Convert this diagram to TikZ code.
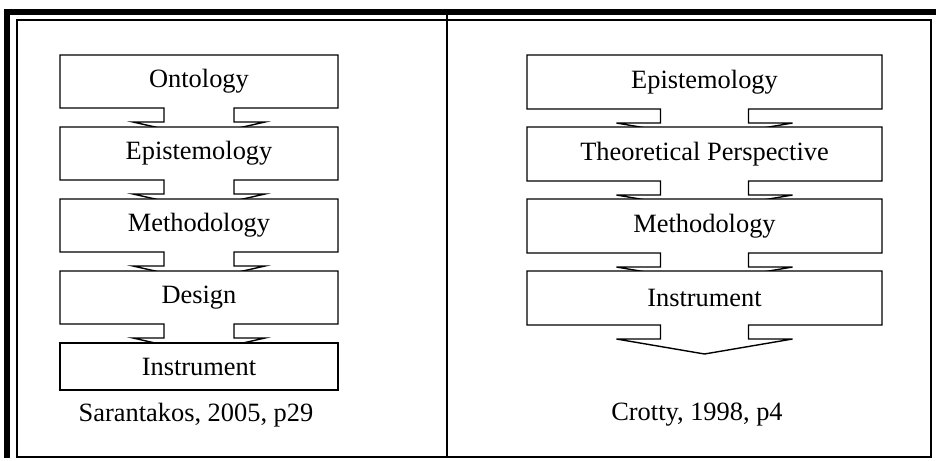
\documentclass[tikz,border=0pt]{standalone}
\usepackage{fontspec}
\setmainfont{Liberation Serif}
\usepackage{tikz}
\usetikzlibrary{positioning}

\begin{document}
\begin{tikzpicture}[
        x=0.5pt, y=-0.5pt,
        font=\fontsize{13.2}{15}\selectfont,
        stage/.style={
            draw=black,
            fill=white,
            line width=0.7pt,
            line join=miter
        },
        label/.style={
            align=center,
            inner sep=0pt
        },
        frame/.style={
            draw=black,
            line width=0.8pt
        }
    ]

    \useasboundingbox (0,0) rectangle (936,460);

    % Outer frame and divider
    \draw[line width=3pt] (7,458) -- (7,12.5) -- (936,12.5);
    \draw[frame] (17,20) rectangle (931,457);
    \draw[frame] (447,12.5) -- (447,457);

    % Left panel: stages with down arrows
    \foreach \txt [count=\i from 0] in {Ontology, Epistemology, Methodology, Design} {
        \pgfmathsetmacro{\ytop}{55+72*\i}
        \pgfmathsetmacro{\ybot}{\ytop+53}
        \draw[stage] (60,\ytop) -- (338,\ytop) -- (338,\ybot) -- (234,\ybot)
            -- (234,\ybot+14) -- (265,\ybot+14) -- (199,\ybot+29)
            -- (133,\ybot+14) -- (164,\ybot+14) -- (164,\ybot) -- (60,\ybot) -- cycle;
        \node[label] (left\i) at (199,\ytop+26.5) {\txt};
    }
    \draw[stage] (60,343) rectangle (338,390);
    \node[label] (left4) at (199,366.5) {Instrument};
    \node[label] (leftsrc) at (196,415) {Sarantakos, 2005, p29};

    % Right panel: stages with down arrows
    \foreach \txt [count=\i from 0] in {Epistemology, Theoretical Perspective, Methodology, Instrument} {
        \pgfmathsetmacro{\ytop}{55+72*\i}
        \pgfmathsetmacro{\ybot}{\ytop+54}
        \draw[stage] (527,\ytop) -- (882,\ytop) -- (882,\ybot) -- (748.5,\ybot)
            -- (748.5,\ybot+14) -- (792.5,\ybot+14) -- (704.5,\ybot+29)
            -- (616.5,\ybot+14) -- (660.5,\ybot+14) -- (660.5,\ybot) -- (527,\ybot) -- cycle;
        \node[label] (right\i) at (704.5,\ytop+27) {\txt};
    }
    \node[label] (rightsrc) at (697,415) {Crotty, 1998, p4};

\end{tikzpicture}
\end{document}
